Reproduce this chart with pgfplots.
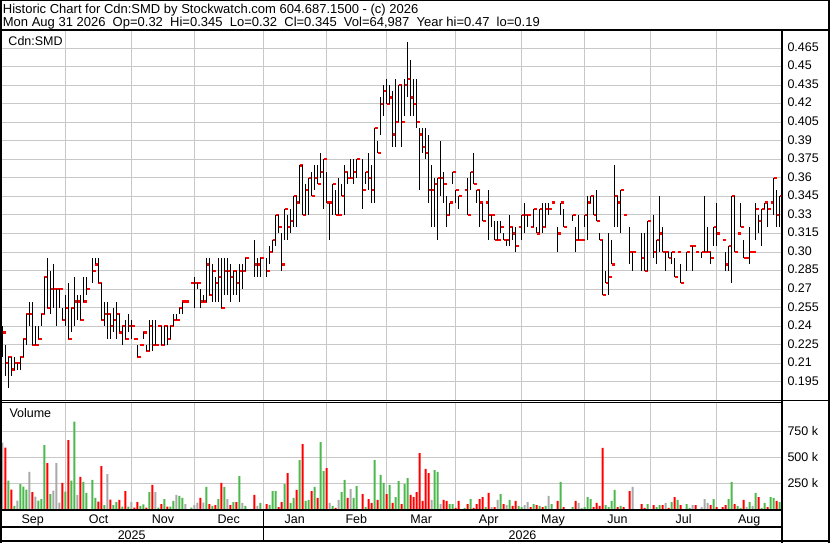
\documentclass[border=0pt]{standalone}
\usepackage{fontspec}
\setmainfont{Liberation Sans}
\usepackage{pgfplots}
\usepackage{pgfplotstable}
\pgfplotsset{compat=1.18}
\definecolor{vup}{HTML}{4DB84D}
\definecolor{vdn}{HTML}{FF0000}
\definecolor{vfl}{HTML}{A9A9A9}
\definecolor{gridc}{HTML}{C8C8C8}

% x = position in pixels, h l c = high low close, v = volume (k), k = close up/down/flat
\pgfplotstableread{
x h l c v k
2.3 .24 .215 .235 638 0
5.3 .225 .20 .21 590 -1
8.3 .215 .19 .215 272 1
11.3 .215 .20 .205 186 -1
14.3 .215 .205 .21 29 1
17.3 .21 .205 .21 80 0
20.3 .215 .205 .215 240 1
23.3 .23 .215 .23 215 1
26.3 .25 .225 .25 186 1
29.3 .26 .24 .25 356 0
32.3 .26 .225 .225 163 -1
35.3 .24 .225 .225 119 0
38.3 .24 .23 .23 80 1
41.3 .25 .24 .25 96 1
44.3 .28 .25 .28 615 1
47.3 .295 .255 .255 442 -1
50.3 .285 .25 .27 144 1
53.3 .29 .255 .27 176 0
56.3 .27 .24 .27 442 0
59.3 .27 .255 .27 61 0
62.3 .255 .245 .245 250 -1
65.3 .265 .24 .255 167 1
68.3 .275 .23 .23 663 -1
71.3 .255 .235 .255 272 1
74.3 .28 .24 .26 840 1
77.3 .265 .245 .26 135 0
80.3 .265 .245 .245 308 -1
83.3 .28 .26 .26 260 1
86.3 .28 .265 .27 154 1
92.3 .295 .275 .285 279 1
95.3 .295 .29 .29 106 1
98.3 .295 .275 .275 71 -1
101.3 .275 .245 .245 413 -1
104.3 .26 .24 .25 38 1
107.3 .26 .23 .25 336 0
110.3 .25 .23 .24 90 -1
113.3 .255 .235 .245 38 1
116.3 .26 .23 .25 67 1
119.3 .25 .235 .235 87 -1
122.3 .24 .225 .24 22 1
125.3 .245 .23 .23 173 -1
128.3 .25 .235 .24 22 1
131.3 .245 .23 .24 67 0
134.3 .23 .23 .23 13 -1
137.3 .225 .215 .215 67 -1
140.3 .225 .225 .225 29 1
143.3 .235 .23 .235 45 1
146.3 .225 .22 .22 13 -1
149.3 .245 .22 .24 163 1
152.3 .245 .22 .225 231 -1
155.3 .245 .225 .225 163 0
158.3 .24 .24 .24 13 1
161.3 .24 .225 .225 48 -1
164.3 .24 .225 .24 96 1
167.3 .24 .225 .23 22 -1
170.3 .24 .23 .24 22 1
173.3 .25 .24 .245 77 1
176.3 .25 .245 .245 135 0
179.3 .255 .25 .255 125 1
182.3 .26 .25 .26 106 1
185.3 .26 .26 .26 48 0
191.3 .275 .275 .275 13 1
194.3 .28 .255 .275 38 0
197.3 .275 .27 .275 61 0
200.3 .27 .255 .26 106 -1
203.3 .265 .26 .26 61 0
206.3 .295 .26 .29 212 1
209.3 .295 .265 .265 48 -1
212.3 .29 .26 .285 29 1
215.3 .28 .26 .275 38 -1
218.3 .295 .26 .28 96 1
221.3 .295 .255 .255 250 -1
224.3 .295 .265 .285 212 1
227.3 .295 .265 .285 96 0
230.3 .29 .26 .28 38 -1
233.3 .285 .265 .285 67 1
236.3 .285 .265 .275 67 -1
239.3 .29 .26 .285 317 1
242.3 .29 .27 .285 58 0
245.3 .295 .285 .295 29 1
254.3 .31 .28 .29 135 -1
257.3 .295 .28 .29 29 0
260.3 .295 .28 .295 58 1
266.7 .295 .28 .285 48 -1
269.7 .305 .29 .30 38 1
272.7 .31 .30 .31 173 1
275.7 .33 .305 .33 173 1
278.7 .33 .315 .32 19 -1
281.7 .315 .285 .29 67 -1
284.7 .335 .31 .335 240 1
287.7 .33 .31 .32 346 -1
290.7 .335 .315 .325 58 1
293.7 .345 .32 .345 106 1
296.7 .345 .32 .34 183 -1
299.7 .37 .34 .37 471 1
302.7 .37 .33 .33 625 -1
305.7 .355 .33 .35 77 1
308.7 .36 .33 .36 87 1
311.7 .365 .345 .345 173 -1
314.7 .37 .35 .36 212 1
317.7 .37 .355 .355 106 -1
320.7 .38 .36 .365 644 1
323.7 .375 .335 .375 365 1
326.7 .365 .34 .34 394 -1
329.7 .34 .31 .34 58 0
332.7 .355 .33 .355 29 1
335.7 .35 .33 .33 10 -1
338.7 .36 .33 .33 87 0
341.7 .355 .345 .345 163 1
344.7 .37 .33 .365 279 1
347.7 .365 .355 .36 106 -1
350.7 .375 .36 .36 192 0
353.7 .375 .355 .365 106 1
356.7 .375 .36 .375 221 1
362.7 .375 .335 .35 144 -1
365.7 .365 .355 .365 19 1
368.7 .38 .35 .36 96 -1
371.7 .37 .34 .35 58 -1
374.7 .40 .34 .40 471 1
377.7 .39 .38 .38 87 -1
380.7 .425 .395 .42 327 1
383.7 .435 .41 .43 250 1
386.7 .44 .42 .42 144 -1
389.7 .435 .42 .425 231 1
392.7 .43 .385 .395 58 -1
395.7 .44 .385 .405 115 1
398.7 .435 .405 .435 269 1
401.7 .435 .385 .405 48 -1
404.7 .44 .41 .435 240 1
407.7 .47 .425 .44 298 1
410.7 .455 .41 .425 135 -1
413.7 .44 .41 .42 115 -1
416.7 .44 .40 .405 163 -1
419.7 .40 .35 .395 538 -1
422.7 .40 .38 .385 77 -1
425.7 .40 .375 .38 385 -1
428.7 .395 .34 .35 346 -1
431.7 .37 .32 .35 87 0
434.7 .36 .32 .355 375 1
437.7 .36 .31 .36 356 1
440.7 .39 .345 .36 48 0
443.7 .365 .34 .355 87 -1
446.7 .345 .32 .33 77 -1
449.7 .34 .33 .34 48 1
452.7 .365 .355 .365 48 1
455.7 .35 .34 .35 10 -1
458.7 .345 .335 .345 77 -1
464.7 .35 .35 .35 10 1
467.7 .36 .33 .33 48 -1
470.7 .365 .35 .365 96 1
473.7 .38 .355 .355 10 -1
476.7 .35 .34 .35 48 -1
479.7 .35 .32 .34 96 -1
482.7 .34 .325 .325 115 -1
485.7 .34 .34 .34 19 1
488.7 .35 .31 .33 154 -1
491.7 .33 .32 .33 19 0
494.7 .325 .31 .31 19 -1
497.7 .325 .31 .31 87 0
500.7 .325 .315 .32 144 1
503.7 .315 .31 .31 48 -1
506.7 .31 .305 .31 38 0
509.7 .33 .305 .32 87 1
512.7 .32 .31 .315 29 -1
515.7 .32 .30 .305 77 -1
518.7 .32 .32 .32 29 1
521.7 .33 .31 .33 19 1
524.7 .34 .315 .33 38 0
527.7 .33 .32 .33 67 0
530.7 .32 .32 .32 19 -1
533.7 .335 .32 .335 48 1
536.7 .32 .315 .315 38 -1
539.7 .335 .315 .335 29 1
542.7 .34 .315 .32 19 -1
545.7 .34 .32 .335 29 1
548.7 .34 .33 .335 125 0
551.7 .34 .34 .34 48 1
557.7 .32 .30 .315 77 -1
560.7 .34 .33 .34 260 1
563.7 .335 .32 .32 19 -1
572.7 .33 .325 .33 19 1
575.7 .32 .30 .31 77 -1
578.7 .33 .31 .31 58 0
581.7 .31 .31 .31 10 0
584.7 .33 .32 .33 19 1
587.7 .345 .31 .34 115 1
590.7 .345 .34 .345 96 1
593.7 .345 .33 .33 19 -1
596.7 .35 .325 .325 58 -1
599.7 .315 .31 .31 29 -1
602.7 .31 .265 .265 587 -1
605.7 .285 .275 .275 38 1
608.7 .315 .265 .28 19 1
611.7 .31 .29 .29 77 1
614.7 .37 .32 .345 183 1
617.7 .345 .32 .34 19 -1
620.7 .35 .315 .35 29 1
623.7 .33 .33 .33 19 -1
629.7 .32 .29 .30 173 -1
632.7 .30 .285 .30 212 0
641.7 .315 .285 .295 48 -1
644.7 .315 .285 .285 10 -1
647.7 .325 .285 .325 48 1
653.7 .33 .295 .30 38 -1
656.7 .31 .29 .31 19 1
659.7 .345 .30 .315 38 1
662.7 .32 .30 .30 38 -1
665.7 .30 .285 .30 58 0
668.7 .30 .295 .295 10 -1
671.7 .30 .29 .30 67 1
674.7 .295 .28 .28 115 -1
677.7 .30 .30 .30 87 1
680.7 .29 .275 .275 38 -1
686.7 .30 .285 .30 48 1
689.7 .305 .305 .305 10 1
692.7 .305 .285 .305 38 0
695.7 .30 .30 .30 38 -1
701.7 .30 .295 .30 19 0
704.7 .345 .30 .30 96 0
707.7 .32 .30 .30 58 0
710.7 .30 .29 .295 38 -1
713.7 .32 .305 .32 96 1
716.7 .34 .305 .315 19 -1
722.7 .31 .31 .31 19 -1
725.7 .30 .285 .29 38 -1
728.7 .305 .285 .305 96 1
731.7 .345 .275 .345 260 1
734.7 .345 .30 .30 48 -1
737.7 .315 .315 .315 29 1
740.7 .34 .32 .32 10 1
743.7 .31 .295 .295 87 -1
746.7 .295 .295 .295 19 0
749.7 .32 .29 .30 67 1
752.7 .30 .30 .30 29 0
755.7 .34 .31 .335 154 1
758.7 .33 .315 .325 115 -1
761.7 .335 .305 .335 10 1
764.7 .34 .335 .34 58 1
767.7 .34 .32 .335 19 -1
770.7 .34 .34 .34 115 1
773.7 .36 .33 .36 106 1
776.7 .35 .32 .33 77 -1
779.7 .345 .32 .345 67 1
}\stock

\begin{document}
\begin{tikzpicture}[x=1pt,y=1pt,font=\fontsize{12.5}{14}\selectfont]
\useasboundingbox (0,0) rectangle (830,543);

% price panel
\begin{axis}[
  at={(0pt,511.7pt)}, anchor=north west,
  scale only axis, width=781.7pt, height=369pt,
  xmin=0, xmax=781.7, ymin=0.18013, ymax=0.4785,
  axis line style={draw=none},
  tick style={draw=none},
  xtick={65.3,131.7,194.3,263.3,326,386.7,455.7,521.7,584.3,650.7,716.7},
  xticklabel=\empty,
  ytick={0.195,0.21,0.225,0.24,0.255,0.27,0.285,0.30,0.315,0.33,0.345,0.36,0.375,0.39,0.405,0.42,0.435,0.45,0.465},
  yticklabels={0.195,0.21,0.225,0.24,0.255,0.27,0.285,0.30,0.315,0.33,0.345,0.36,0.375,0.39,0.405,0.42,0.435,0.45,0.465},
  yticklabel pos=right,
  yticklabel style={anchor=west, inner sep=0pt, xshift=5.6pt, yshift=1pt, font=\fontsize{12.5}{14}\selectfont},
  xmajorgrids=true, ymajorgrids=true, grid style={gridc, line width=0.9pt},
]
% close ticks
\addplot[draw=none, mark=none,
  error bars/.cd, x dir=plus, x fixed=3.2, error mark=none,
  error bar style={draw=red, line width=2.2pt}]
  table[x=x, y=c] {\stock};
% high-low bars
\addplot[draw=none, mark=none,
  error bars/.cd, y dir=both, y explicit, error mark=none,
  error bar style={draw=black, line width=1pt}]
  table[x=x, y=c, y error plus expr=\thisrow{h}-\thisrow{c}, y error minus expr=\thisrow{c}-\thisrow{l}] {\stock};
\end{axis}

% volume panel
\begin{axis}[
  at={(0pt,34pt)}, anchor=south west,
  scale only axis, width=781.7pt, height=106.7pt,
  xmin=0, xmax=781.7, ymin=0, ymax=1026,
  axis line style={draw=none},
  tick style={draw=none},
  xtick={32.7,98.5,163,228.8,294.7,356.3,421.2,488.7,553,617.5,683.7,749.2},
  xticklabels={Sep,Oct,Nov,Dec,Jan,Feb,Mar,Apr,May,Jun,Jul,Aug},
  xticklabel style={anchor=base, inner sep=0pt, yshift=-14.3pt, font=\fontsize{12.5}{14}\selectfont},
  minor xtick={65.3,131.7,194.3,263.3,326,386.7,455.7,521.7,584.3,650.7,716.7},
  xminorgrids=true, ymajorgrids=true,
  ytick={250,500,750},
  yticklabels={250 k,500 k,750 k},
  yticklabel pos=right,
  yticklabel style={anchor=west, inner sep=0pt, xshift=5.6pt, font=\fontsize{12.5}{14}\selectfont},
  grid style={gridc, line width=0.9pt},
  minor grid style={gridc, line width=0.9pt},
]
\addplot[ybar, bar width=2pt, bar shift=0pt, fill=vup, draw=none,
  restrict expr to domain={\thisrow{k}}{0.5:1.5}] table[x=x, y=v] {\stock};
\addplot[ybar, bar width=2pt, bar shift=0pt, fill=vdn, draw=none,
  restrict expr to domain={\thisrow{k}}{-1.5:-0.5}] table[x=x, y=v] {\stock};
\addplot[ybar, bar width=2pt, bar shift=0pt, fill=vfl, draw=none,
  restrict expr to domain={\thisrow{k}}{-0.5:0.5}] table[x=x, y=v] {\stock};
\end{axis}

% frame
\draw[line width=2pt] (0,512.7) -- (830,512.7);
\draw[line width=2pt] (781.8,0) -- (781.8,512.7);
\draw[line width=1pt] (0,142.7) -- (830,142.7);
\draw[line width=1pt] (0,140.7) -- (781.8,140.7);
\draw[line width=2pt] (0,33) -- (781.8,33);
\draw[line width=2pt] (0,16.2) -- (781.8,16.2);
\draw[line width=1.2pt] (263.3,2) -- (263.3,33);
\draw[line width=2pt] (1,0) -- (1,543);
\draw[line width=2pt] (829,0) -- (829,543);
\draw[line width=2pt] (0,1.5) -- (830,1.5);
\draw[line width=1pt] (0,542.5) -- (830,542.5);

% texts
\begin{scope}[font=\fontsize{13}{15}\selectfont]
\node[anchor=base west, inner sep=0pt] at (2.7,529) {Historic Chart for Cdn:SMD by Stockwatch.com 604.687.1500 - (c) 2026};
\node[anchor=base west, inner sep=0pt] at (2.7,516.5) {Mon Aug 31 2026~ Op=0.32~ Hi=0.345~ Lo=0.32~ Cl=0.345~ Vol=64,987~ Year hi=0.47~ lo=0.19};
\end{scope}
\node[anchor=base west, inner sep=0pt] at (8.3,497.3) {Cdn:SMD};
\node[anchor=base west, inner sep=0pt] at (9.3,125.7) {Volume};
\node[anchor=base, inner sep=0pt] at (131.7,3.7) {2025};
\node[anchor=base, inner sep=0pt] at (522.5,3.7) {2026};
\end{tikzpicture}
\end{document}
